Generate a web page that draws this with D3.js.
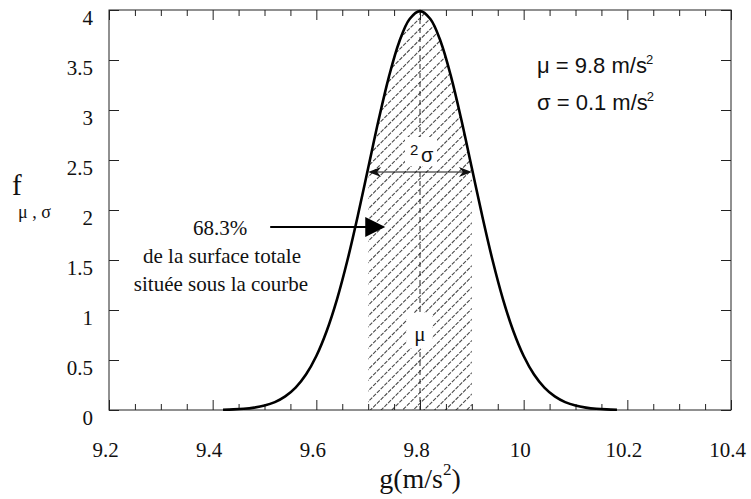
<!DOCTYPE html>
<html lang="fr">
<head>
<meta charset="UTF-8">
<title>Loi normale - g</title>
<script src="https://d3js.org/d3.v7.min.js"></script>
<style>
  body { margin: 0; background: #fff; }
  svg { display: block; }
</style>
</head>
<body>
<div id="chart"></div>
<script>
// points (g in m/s^2, f)
const gValues = [9.42, 9.44, 9.46, 9.48, 9.50, 9.52, 9.54, 9.56, 9.58, 9.60,
                 9.62, 9.64, 9.66, 9.68, 9.70, 9.72, 9.74, 9.76, 9.78, 9.80,
                 9.82, 9.84, 9.86, 9.88, 9.90, 9.92, 9.94, 9.96, 9.98, 10.00,
                 10.02, 10.04, 10.06, 10.08, 10.10, 10.12, 10.14, 10.16, 10.18];
const fValues = [0.003, 0.006, 0.012, 0.024, 0.044, 0.079, 0.136, 0.224, 0.355, 0.540,
                 0.790, 1.109, 1.497, 1.942, 2.420, 2.897, 3.332, 3.683, 3.910, 3.989,
                 3.910, 3.683, 3.332, 2.897, 2.420, 1.942, 1.497, 1.109, 0.790, 0.540,
                 0.355, 0.224, 0.136, 0.079, 0.044, 0.024, 0.012, 0.006, 0.003];

const xTicks = [9.2, 9.4, 9.6, 9.8, 10, 10.2, 10.4];
const yTicks = [0, 0.5, 1, 1.5, 2, 2.5, 3, 3.5, 4];

const mu = 9.8;
const sigma = 0.1;
const shadeFrom = 9.7, shadeTo = 9.9;   // mu - sigma, mu + sigma
const arrowLevel = 2.38;                // height of the 2 sigma arrow

const SERIF = '"Liberation Serif", "Times New Roman", serif';
const SANS = '"Liberation Sans", Arial, sans-serif';

const width = 751, height = 499;
const x = d3.scaleLinear().domain([9.2, 10.4]).range([109, 731]);
const y = d3.scaleLinear().domain([0, 4]).range([410, 10]);

const svg = d3.select("#chart").append("svg")
    .attr("width", width)
    .attr("height", height);

const data = gValues.map((g, i) => ({ g: g, f: fValues[i] }));

// hatched area between mu - sigma and mu + sigma
const defs = svg.append("defs");
defs.append("clipPath").attr("id", "band")
  .append("rect")
    .attr("x", x(shadeFrom))
    .attr("y", y(4))
    .attr("width", x(shadeTo) - x(shadeFrom))
    .attr("height", y(0) - y(4));

const area = d3.area()
    .x(d => x(d.g))
    .y0(y(0))
    .y1(d => y(d.f))
    .curve(d3.curveCatmullRom);

defs.append("clipPath").attr("id", "under")
  .append("path").attr("d", area(data));

const hatch = svg.append("g").attr("clip-path", "url(#band)")
  .append("g").attr("clip-path", "url(#under)");

const step = 10.7;
const hx0 = x(shadeFrom) - 10;
for (let off = 5; off < 620; off += step) {
  hatch.append("line")
      .attr("x1", hx0)
      .attr("y1", off)
      .attr("x2", hx0 + 400)
      .attr("y2", off - 400)
      .attr("stroke", "#4a4a4a")
      .attr("stroke-width", 1.1)
      .attr("stroke-dasharray", "4,1.3");
}

// dashed line at mu
svg.append("line")
    .attr("x1", x(mu)).attr("x2", x(mu))
    .attr("y1", y(4)).attr("y2", y(0))
    .attr("stroke", "#222")
    .attr("stroke-width", 1)
    .attr("stroke-dasharray", "5,4");

// white boxes behind labels
svg.append("rect")
    .attr("x", x(mu) - 15).attr("y", 137)
    .attr("width", 32).attr("height", 29)
    .attr("fill", "#fff");
svg.append("rect")
    .attr("x", x(mu) - 13).attr("y", 313)
    .attr("width", 25).attr("height", 35)
    .attr("fill", "#fff");

// frame and ticks
const ink = "#222";
svg.append("rect")
    .attr("x", x(9.2)).attr("y", y(4))
    .attr("width", x(10.4) - x(9.2))
    .attr("height", y(0) - y(4))
    .attr("fill", "none")
    .attr("stroke", ink)
    .attr("stroke-width", 1);

const minorTicks = d3.range(0, 25).map(i => +(9.2 + i * 0.05).toFixed(2))
    .filter(v => Math.abs((v * 5) - Math.round(v * 5)) > 1e-6);

function styleAxis(g) {
  g.select(".domain").remove();
  g.selectAll(".tick line").attr("stroke", ink);
}

svg.append("g")
    .attr("transform", `translate(0,${y(0)})`)
    .call(d3.axisBottom(x).tickValues(minorTicks).tickSize(-6).tickFormat(""))
    .call(styleAxis);
svg.append("g")
    .attr("transform", `translate(0,${y(4)})`)
    .call(d3.axisTop(x).tickValues(minorTicks).tickSize(-6).tickFormat(""))
    .call(styleAxis);
svg.append("g")
    .attr("transform", `translate(0,${y(4)})`)
    .call(d3.axisTop(x).tickValues(xTicks).tickSize(-10).tickFormat(""))
    .call(styleAxis);

const xAxis = svg.append("g")
    .attr("transform", `translate(0,${y(0)})`)
    .call(d3.axisBottom(x).tickValues(xTicks).tickSize(-10).tickFormat(d3.format("~g")))
    .call(styleAxis);
xAxis.selectAll(".tick text")
    .style("font-family", SERIF)
    .style("font-size", "21px")
    .attr("fill", "#111")
    .attr("x", -4)
    .attr("y", 47)
    .attr("dy", null);

const yAxis = svg.append("g")
    .attr("transform", `translate(${x(9.2)},0)`)
    .call(d3.axisLeft(y).tickValues(yTicks).tickSize(-10).tickPadding(16).tickFormat(d3.format("~g")))
    .call(styleAxis);
yAxis.selectAll(".tick text")
    .style("font-family", SERIF)
    .style("font-size", "21px")
    .attr("fill", "#111")
    .attr("dy", "0.68em");

svg.append("g")
    .attr("transform", `translate(${x(10.4)},0)`)
    .call(d3.axisRight(y).tickValues(yTicks).tickSize(-10).tickFormat(""))
    .call(styleAxis);

// the curve
const line = d3.line()
    .x(d => x(d.g))
    .y(d => y(d.f))
    .curve(d3.curveCatmullRom);
svg.append("path")
    .datum(data)
    .attr("d", line)
    .attr("fill", "none")
    .attr("stroke", "#000")
    .attr("stroke-width", 2.6)
    .attr("stroke-linejoin", "round");

// 2 sigma double arrow
const ay = y(arrowLevel);
const xl = x(shadeFrom), xr = x(shadeTo);
svg.append("line")
    .attr("x1", xl + 4).attr("x2", xr - 4)
    .attr("y1", ay).attr("y2", ay)
    .attr("stroke", "#111").attr("stroke-width", 1.2);
svg.append("path")
    .attr("d", `M${xl},${ay} L${xl + 13},${ay - 5} L${xl + 9},${ay} L${xl + 13},${ay + 5} Z`)
    .attr("fill", "#111");
svg.append("path")
    .attr("d", `M${xr},${ay} L${xr - 13},${ay - 5} L${xr - 9},${ay} L${xr - 13},${ay + 5} Z`)
    .attr("fill", "#111");

const lab2s = svg.append("text").style("font-family", SANS).attr("fill", "#111");
lab2s.append("tspan").attr("x", x(mu) - 10).attr("y", 155).style("font-size", "15px").text("2");
lab2s.append("tspan").attr("x", x(mu) + 1).attr("y", 162).style("font-size", "20px").text("σ");

svg.append("text")
    .style("font-family", SERIF)
    .style("font-size", "21px")
    .attr("x", x(mu))
    .attr("y", 341)
    .attr("text-anchor", "middle")
    .attr("fill", "#111")
    .text("μ");

// 68.3 % annotation
const py = y(1.83);
svg.append("line")
    .attr("x1", x(9.511)).attr("x2", x(9.71))
    .attr("y1", py).attr("y2", py)
    .attr("stroke", "#000").attr("stroke-width", 2);
svg.append("path")
    .attr("d", `M${x(9.733)},${py} L${x(9.733) - 20},${py - 10} L${x(9.733) - 20},${py + 10} Z`)
    .attr("fill", "#000");

const note = svg.append("text")
    .style("font-family", SERIF)
    .style("font-size", "21px")
    .attr("text-anchor", "middle")
    .attr("fill", "#111");
note.append("tspan").attr("x", 220).attr("y", 235).text("68.3%");
note.append("tspan").attr("x", 222).attr("y", 263).text("de la surface totale");
note.append("tspan").attr("x", 221).attr("y", 291).text("située sous la courbe");

// parameters
const params = svg.append("g").style("font-family", SANS).attr("fill", "#111");
const p1 = params.append("text").attr("x", 537).attr("y", 73).style("font-size", "22px");
p1.append("tspan").text("μ = 9.8 m/s");
p1.append("tspan").style("font-size", "13px").attr("dx", -1).attr("dy", -9).text("2");
const p2 = params.append("text").attr("x", 537).attr("y", 110).style("font-size", "22px");
p2.append("tspan").text("σ = 0.1 m/s");
p2.append("tspan").style("font-size", "13px").attr("dx", -1).attr("dy", -9).text("2");

// axis titles
const xt = svg.append("text")
    .style("font-family", SERIF)
    .style("font-size", "28px")
    .attr("x", 420)
    .attr("y", 488)
    .attr("text-anchor", "middle")
    .attr("fill", "#111");
xt.append("tspan").text("g(m/s");
xt.append("tspan").style("font-size", "17px").attr("dy", -13).text("2");
xt.append("tspan").attr("dy", 13).text(")");

svg.append("text")
    .style("font-family", SERIF)
    .style("font-size", "29px")
    .attr("x", 12).attr("y", 195)
    .attr("fill", "#111")
    .text("f");
svg.append("text")
    .style("font-family", SERIF)
    .style("font-size", "18px")
    .attr("x", 18).attr("y", 218)
    .attr("fill", "#111")
    .text("μ , σ");
</script>
</body>
</html>
